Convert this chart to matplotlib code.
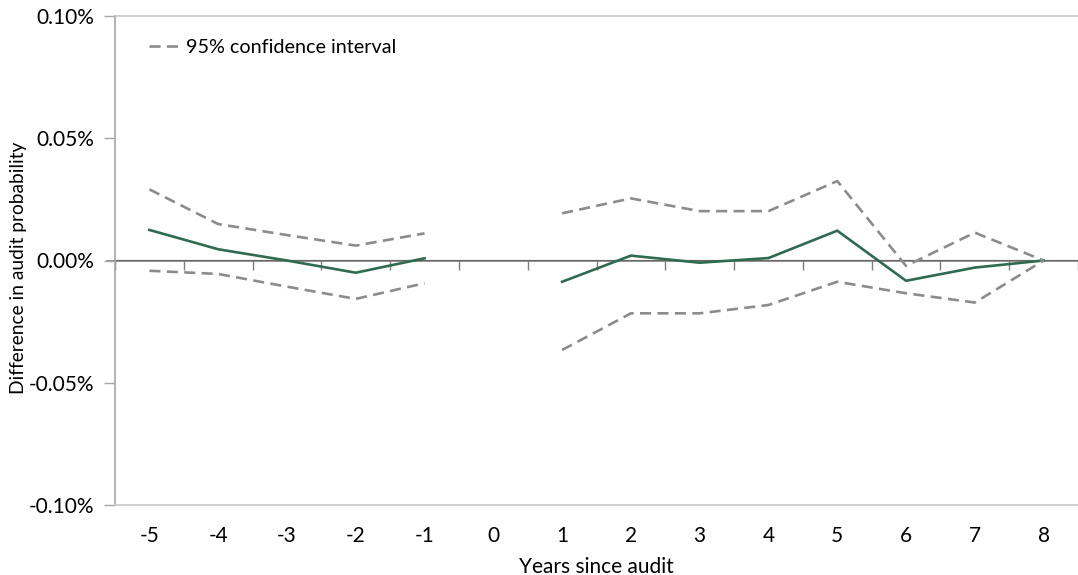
import matplotlib
matplotlib.use("Agg")
import matplotlib.pyplot as plt
import numpy as np

plt.rcParams['font.family'] = ['Lato', 'DejaVu Sans']

# years since audit (category axis), values in percent
years = [-5, -4, -3, -2, -1, 0, 1, 2, 3, 4, 5, 6, 7, 8]

pre_years = [-5, -4, -3, -2, -1]
pre_est = [0.0125, 0.0046, 0.0000, -0.0050, 0.0009]
pre_upper = [0.0291, 0.0149, 0.0104, 0.0061, 0.0111]
pre_lower = [-0.0042, -0.0055, -0.0107, -0.0157, -0.0093]

post_years = [1, 2, 3, 4, 5, 6, 7, 8]
post_est = [-0.0087, 0.0020, -0.0009, 0.0010, 0.0122, -0.0083, -0.0029, 0.0000]
post_upper = [0.0193, 0.0254, 0.0202, 0.0202, 0.0325, -0.0022, 0.0114, 0.0000]
post_lower = [-0.0366, -0.0216, -0.0216, -0.0182, -0.0087, -0.0134, -0.0172, 0.0000]

yticks = [-0.10, -0.05, 0.00, 0.05, 0.10]

GREEN = '#2f6b50'
GREY = '#8c8c8c'
FS = 15

fig = plt.figure(figsize=(10.78, 5.75), dpi=100)
ax = fig.add_axes([115 / 1078, 1 - 505 / 575, 963 / 1078, 489 / 575])

dash = (0, (4.2, 2.4))
for xs, est, up, lo in [(pre_years, pre_est, pre_upper, pre_lower),
                        (post_years, post_est, post_upper, post_lower)]:
    ax.plot(xs, est, color=GREEN, lw=1.9, solid_joinstyle='miter')
    ax.plot(xs, up, color=GREY, lw=1.9, linestyle=dash)
    ax.plot(xs, lo, color=GREY, lw=1.9, linestyle=dash)

ax.plot([], [], color=GREY, lw=1.9, linestyle=dash, label='95% confidence interval')

ax.set_xlim(years[0] - 0.5, years[-1] + 0.5)
ax.set_ylim(yticks[0], yticks[-1])

ax.set_yticks(yticks)
ax.set_yticklabels(['{:.2f}%'.format(v) for v in yticks], fontsize=FS)
ax.set_xticks(years)
ax.set_xticklabels([str(y) for y in years], fontsize=FS)
ax.tick_params(axis='x', length=0, pad=15)
ax.tick_params(axis='y', length=8, width=1, color='#a6a6a6', pad=7)

for side in ['top', 'bottom']:
    ax.spines[side].set_color('#c8c8c8')
    ax.spines[side].set_linewidth(1.2)
ax.spines['right'].set_visible(False)
ax.spines['left'].set_color('#a6a6a6')
ax.spines['left'].set_linewidth(1.2)

# zero line with category boundary tick marks pointing down
sec = ax.secondary_xaxis(0.5)
sec.set_xticks(np.arange(years[0] - 0.5, years[-1] + 1.0, 1.0))
sec.set_xticklabels([])
sec.tick_params(length=7, width=1, color='#7f7f7f', direction='in')
sec.spines['bottom'].set_color('#7f7f7f')
sec.spines['bottom'].set_linewidth(1.2)
ax.axhline(0, xmin=-8 / 963, xmax=1, color='#7f7f7f', lw=1.2, clip_on=False, zorder=1)

ax.set_xlabel('Years since audit', fontsize=FS, labelpad=8)
ax.set_ylabel('Difference in audit probability', fontsize=13.8)
ax.yaxis.set_label_coords(-(115 - 27) / 963, 0.485)

ax.legend(loc='upper left', frameon=False, fontsize=14.2, handlelength=1.6,
          handletextpad=0.25, bbox_to_anchor=(0.017, 0.99))

fig.savefig('out.png', dpi=100)
